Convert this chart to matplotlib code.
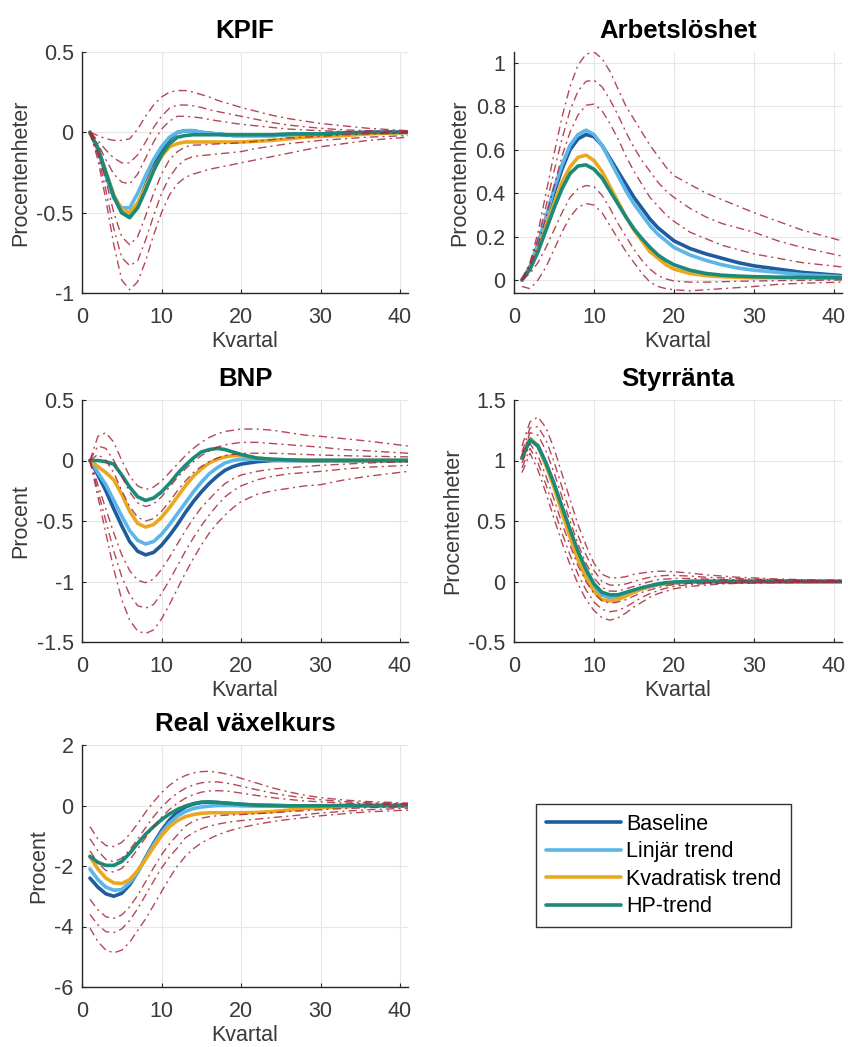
import matplotlib
matplotlib.use("Agg")
import matplotlib.pyplot as plt
from matplotlib.ticker import FuncFormatter

plt.rcParams['font.family'] = ['Liberation Sans', 'DejaVu Sans']
plt.rcParams['axes.unicode_minus'] = False

# ---------------- data ----------------
Q = [1, 2, 3, 4, 5, 6, 7, 8, 9, 10, 11, 12, 13, 14, 15, 16, 17, 18, 19, 20,
     22, 24, 26, 28, 30, 33, 36, 41]

series_names = ["Baseline", "Linjär trend", "Kvadratisk trend", "HP-trend"]
series_colors = ["#1f5c9e", "#5cb6e8", "#eaa821", "#1b8a78"]

# KPIF
kpif_base = [0, -0.1, -0.25, -0.4, -0.5, -0.53, -0.45, -0.33, -0.21, -0.11, -0.04, 0.0, 0.01, 0.01,
             0.0, -0.005, -0.01, -0.015, -0.02, -0.02, -0.02, -0.02, -0.015, -0.01, -0.01, -0.005, 0, 0]
kpif_lin = [0, -0.11, -0.27, -0.41, -0.47, -0.47, -0.38, -0.27, -0.17, -0.09, -0.03, 0.0, 0.01, 0.01,
            0.0, -0.005, -0.01, -0.015, -0.02, -0.02, -0.02, -0.02, -0.015, -0.01, -0.01, -0.005, 0, 0]
kpif_kvad = [0, -0.1, -0.25, -0.39, -0.48, -0.5, -0.44, -0.34, -0.23, -0.15, -0.09, -0.07, -0.06, -0.06,
             -0.06, -0.06, -0.06, -0.06, -0.06, -0.06, -0.055, -0.05, -0.04, -0.03, -0.025, -0.02, -0.01, 0]
kpif_hp = [0, -0.1, -0.25, -0.4, -0.5, -0.53, -0.47, -0.36, -0.24, -0.14, -0.07, -0.03, -0.02, -0.015,
           -0.015, -0.015, -0.015, -0.015, -0.015, -0.015, -0.015, -0.015, -0.01, -0.01, -0.01, -0.005, 0, 0]
kpif_bands = [
    [0, -0.02, -0.04, -0.05, -0.05, -0.04, 0.02, 0.1, 0.17, 0.22, 0.25, 0.26, 0.26, 0.25,
     0.235, 0.22, 0.2, 0.185, 0.17, 0.155, 0.13, 0.105, 0.085, 0.07, 0.055, 0.04, 0.025, 0.01],
    [0, -0.05, -0.11, -0.16, -0.19, -0.19, -0.14, -0.06, 0.03, 0.1, 0.15, 0.17, 0.17, 0.165,
     0.155, 0.14, 0.13, 0.12, 0.11, 0.1, 0.08, 0.06, 0.045, 0.035, 0.025, 0.015, 0.01, 0.005],
    [0, -0.07, -0.17, -0.26, -0.31, -0.32, -0.26, -0.16, -0.06, 0.02, 0.07, 0.1, 0.1, 0.095,
     0.09, 0.08, 0.072, 0.065, 0.057, 0.05, 0.04, 0.03, 0.02, 0.015, 0.01, 0.005, 0.0, 0.0],
    [0, -0.12, -0.3, -0.5, -0.65, -0.7, -0.65, -0.52, -0.38, -0.26, -0.17, -0.12, -0.09, -0.08,
     -0.078, -0.075, -0.072, -0.07, -0.068, -0.065, -0.055, -0.045, -0.035, -0.03, -0.025, -0.015, -0.01, -0.005],
    [0, -0.14, -0.36, -0.6, -0.78, -0.83, -0.8, -0.67, -0.52, -0.38, -0.28, -0.21, -0.17, -0.15,
     -0.145, -0.14, -0.135, -0.13, -0.125, -0.12, -0.1, -0.085, -0.07, -0.06, -0.05, -0.04, -0.03, -0.02],
    [0, -0.17, -0.42, -0.7, -0.92, -0.98, -0.93, -0.8, -0.64, -0.5, -0.39, -0.32, -0.28, -0.26,
     -0.245, -0.23, -0.22, -0.21, -0.2, -0.19, -0.17, -0.15, -0.13, -0.11, -0.09, -0.07, -0.05, -0.03],
]

# Arbetslöshet
arb_base = [0, 0.06, 0.16, 0.28, 0.4, 0.51, 0.6, 0.65, 0.67, 0.66, 0.62, 0.56, 0.5, 0.44,
            0.38, 0.33, 0.28, 0.24, 0.21, 0.18, 0.145, 0.12, 0.1, 0.08, 0.065, 0.05, 0.035, 0.02]
arb_lin = [0, 0.06, 0.17, 0.29, 0.42, 0.53, 0.62, 0.67, 0.69, 0.67, 0.62, 0.55, 0.48, 0.41,
           0.35, 0.3, 0.25, 0.21, 0.18, 0.15, 0.115, 0.09, 0.07, 0.055, 0.045, 0.035, 0.025, 0.015]
arb_kvad = [0, 0.05, 0.14, 0.25, 0.35, 0.45, 0.52, 0.565, 0.575, 0.55, 0.5, 0.43, 0.36, 0.29,
            0.23, 0.18, 0.13, 0.1, 0.07, 0.05, 0.03, 0.02, 0.015, 0.012, 0.01, 0.01, 0.01, 0.01]
arb_hp = [0, 0.05, 0.13, 0.23, 0.33, 0.42, 0.49, 0.525, 0.53, 0.51, 0.47, 0.41, 0.35, 0.29,
          0.235, 0.19, 0.15, 0.115, 0.09, 0.07, 0.045, 0.03, 0.022, 0.018, 0.015, 0.013, 0.012, 0.01]
arb_bands = [
    [0.0, 0.08, 0.22, 0.4, 0.58, 0.75, 0.89, 0.99, 1.04, 1.05, 1.02, 0.96, 0.88, 0.8,
     0.74, 0.68, 0.62, 0.57, 0.52, 0.48, 0.44, 0.4, 0.37, 0.34, 0.31, 0.27, 0.23, 0.18],
    [0, 0.07, 0.19, 0.34, 0.5, 0.65, 0.78, 0.87, 0.915, 0.92, 0.89, 0.83, 0.76, 0.68,
     0.61, 0.55, 0.5, 0.45, 0.41, 0.38, 0.33, 0.29, 0.26, 0.24, 0.22, 0.18, 0.15, 0.11],
    [0, 0.06, 0.16, 0.29, 0.43, 0.57, 0.68, 0.76, 0.805, 0.81, 0.78, 0.72, 0.65, 0.57,
     0.5, 0.44, 0.38, 0.34, 0.3, 0.27, 0.22, 0.19, 0.16, 0.14, 0.12, 0.1, 0.08, 0.06],
    [0, 0.03, 0.08, 0.15, 0.23, 0.31, 0.38, 0.42, 0.435, 0.43, 0.39, 0.33, 0.26, 0.2,
     0.14, 0.09, 0.05, 0.02, 0.005, -0.005, -0.01, -0.01, -0.008, -0.006, -0.005, -0.003, -0.002, 0.0],
    [-0.03, -0.04, 0.0, 0.06, 0.14, 0.22, 0.29, 0.335, 0.352, 0.345, 0.31, 0.25, 0.19, 0.13,
     0.08, 0.03, -0.01, -0.03, -0.04, -0.045, -0.05, -0.045, -0.04, -0.035, -0.03, -0.02, -0.015, -0.01],
]

# BNP
bnp_base = [0, -0.12, -0.25, -0.4, -0.54, -0.67, -0.75, -0.78, -0.76, -0.7, -0.62, -0.53, -0.43, -0.34,
            -0.26, -0.19, -0.13, -0.08, -0.05, -0.03, -0.01, 0.0, 0.0, 0.0, 0.0, 0.0, 0.0, 0.0]
bnp_lin = [0, -0.1, -0.2, -0.33, -0.46, -0.58, -0.66, -0.69, -0.67, -0.61, -0.53, -0.44, -0.35, -0.26,
           -0.18, -0.11, -0.06, -0.02, 0.0, 0.01, 0.01, 0.005, 0.0, 0.0, 0.0, 0.0, 0.0, 0.0]
bnp_kvad = [0, -0.05, -0.1, -0.16, -0.28, -0.42, -0.52, -0.55, -0.53, -0.47, -0.39, -0.3, -0.21, -0.13,
            -0.07, -0.02, 0.01, 0.03, 0.04, 0.04, 0.02, 0.01, 0.005, 0.0, 0.0, 0.0, 0.0, 0.0]
bnp_hp = [0, 0.0, -0.01, -0.03, -0.12, -0.22, -0.3, -0.33, -0.31, -0.26, -0.19, -0.11, -0.04, 0.02,
          0.07, 0.09, 0.1, 0.09, 0.07, 0.05, 0.02, 0.01, 0.005, 0.0, 0.0, 0.0, 0.0, 0.0]
bnp_bands = [
    [0.0, 0.2, 0.23, 0.15, 0.0, -0.13, -0.21, -0.24, -0.22, -0.17, -0.1, -0.03, 0.04, 0.1,
     0.15, 0.19, 0.22, 0.24, 0.25, 0.26, 0.26, 0.25, 0.23, 0.21, 0.2, 0.18, 0.16, 0.12],
    [0, 0.12, 0.1, 0.0, -0.13, -0.26, -0.35, -0.38, -0.36, -0.3, -0.22, -0.14, -0.07, -0.01,
     0.04, 0.08, 0.11, 0.13, 0.14, 0.15, 0.15, 0.14, 0.13, 0.12, 0.11, 0.09, 0.08, 0.06],
    [0, 0.05, 0.0, -0.1, -0.25, -0.38, -0.47, -0.5, -0.48, -0.42, -0.34, -0.25, -0.17, -0.1,
     -0.05, -0.01, 0.02, 0.04, 0.05, 0.06, 0.06, 0.06, 0.055, 0.05, 0.045, 0.04, 0.035, 0.03],
    [0, -0.2, -0.4, -0.6, -0.78, -0.91, -0.99, -1.01, -0.98, -0.9, -0.8, -0.69, -0.58, -0.48,
     -0.39, -0.32, -0.25, -0.19, -0.15, -0.12, -0.09, -0.07, -0.06, -0.05, -0.04, -0.03, -0.02, -0.01],
    [0, -0.25, -0.5, -0.75, -0.96, -1.11, -1.2, -1.22, -1.19, -1.1, -0.99, -0.87, -0.75, -0.64,
     -0.54, -0.45, -0.37, -0.3, -0.25, -0.21, -0.16, -0.13, -0.11, -0.1, -0.09, -0.07, -0.055, -0.04],
    [0, -0.3, -0.6, -0.9, -1.15, -1.32, -1.41, -1.43, -1.4, -1.31, -1.19, -1.06, -0.93, -0.81,
     -0.7, -0.6, -0.52, -0.45, -0.39, -0.34, -0.28, -0.25, -0.23, -0.21, -0.2, -0.16, -0.13, -0.09],
]

# Styrränta
styr_base = [1.02, 1.18, 1.12, 0.97, 0.8, 0.6, 0.41, 0.23, 0.08, -0.04, -0.11, -0.13, -0.12, -0.1,
             -0.08, -0.06, -0.04, -0.025, -0.015, -0.01, 0.0, 0.0, 0.0, 0.0, 0.0, 0.0, 0.0, 0.0]
styr_lin = [1.02, 1.18, 1.12, 0.97, 0.8, 0.6, 0.41, 0.23, 0.08, -0.04, -0.11, -0.13, -0.12, -0.1,
            -0.08, -0.06, -0.04, -0.025, -0.015, -0.01, 0.0, 0.0, 0.0, 0.0, 0.0, 0.0, 0.0, 0.0]
styr_kvad = [1.02, 1.18, 1.12, 0.96, 0.78, 0.57, 0.37, 0.18, 0.03, -0.08, -0.15, -0.16, -0.15, -0.12,
             -0.09, -0.06, -0.04, -0.025, -0.015, -0.01, 0.0, 0.0, 0.0, 0.0, 0.0, 0.0, 0.0, 0.0]
styr_hp = [1.02, 1.17, 1.12, 0.98, 0.81, 0.62, 0.43, 0.25, 0.1, -0.02, -0.09, -0.11, -0.11, -0.09,
           -0.07, -0.05, -0.035, -0.02, -0.01, -0.005, 0.0, 0.0, 0.0, 0.0, 0.0, 0.0, 0.0, 0.0]
styr_bands = [
    [1.12, 1.32, 1.36, 1.27, 1.1, 0.89, 0.68, 0.47, 0.3, 0.15, 0.06, 0.03, 0.03, 0.04,
     0.06, 0.07, 0.08, 0.085, 0.085, 0.08, 0.07, 0.055, 0.045, 0.035, 0.03, 0.02, 0.015, 0.01],
    [1.07, 1.27, 1.28, 1.17, 0.99, 0.78, 0.57, 0.38, 0.22, 0.09, 0.0, -0.03, -0.03, -0.02,
     0.0, 0.02, 0.035, 0.045, 0.05, 0.05, 0.045, 0.035, 0.03, 0.025, 0.02, 0.015, 0.01, 0.005],
    [1.04, 1.23, 1.21, 1.08, 0.9, 0.7, 0.5, 0.31, 0.15, 0.03, -0.05, -0.08, -0.08, -0.06,
     -0.04, -0.02, 0.0, 0.015, 0.02, 0.025, 0.025, 0.02, 0.015, 0.012, 0.01, 0.008, 0.005, 0.003],
    [0.98, 1.14, 1.04, 0.87, 0.68, 0.48, 0.3, 0.13, 0.0, -0.1, -0.16, -0.18, -0.17, -0.15,
     -0.12, -0.09, -0.07, -0.05, -0.035, -0.025, -0.015, -0.01, -0.008, -0.006, -0.005, -0.004, -0.003, -0.002],
    [0.94, 1.1, 0.98, 0.8, 0.6, 0.4, 0.22, 0.06, -0.07, -0.17, -0.23, -0.25, -0.24, -0.21,
     -0.17, -0.13, -0.1, -0.075, -0.055, -0.04, -0.025, -0.017, -0.013, -0.01, -0.008, -0.006, -0.005, -0.004],
    [0.9, 1.06, 0.92, 0.73, 0.52, 0.32, 0.14, -0.02, -0.15, -0.24, -0.3, -0.32, -0.3, -0.26,
     -0.21, -0.17, -0.13, -0.1, -0.08, -0.06, -0.04, -0.03, -0.02, -0.015, -0.012, -0.01, -0.008, -0.005],
]

# Real växelkurs
rv_base = [-2.4, -2.7, -2.92, -3.0, -2.9, -2.62, -2.2, -1.72, -1.25, -0.83, -0.48, -0.22, -0.05, 0.05,
           0.1, 0.11, 0.1, 0.08, 0.06, 0.04, 0.01, 0.0, -0.01, -0.01, -0.01, -0.01, -0.005, 0.0]
rv_lin = [-2.1, -2.45, -2.7, -2.8, -2.78, -2.55, -2.2, -1.75, -1.3, -0.9, -0.58, -0.35, -0.2, -0.1,
          -0.05, -0.02, 0.0, 0.0, 0.0, -0.01, -0.02, -0.02, -0.02, -0.015, -0.01, -0.01, -0.005, 0.0]
rv_kvad = [-1.7, -2.1, -2.4, -2.56, -2.58, -2.45, -2.15, -1.78, -1.38, -1.0, -0.7, -0.5, -0.37, -0.3,
           -0.26, -0.24, -0.24, -0.24, -0.24, -0.24, -0.23, -0.2, -0.15, -0.1, -0.07, -0.04, -0.02, -0.01]
rv_hp = [-1.68, -1.88, -1.98, -1.98, -1.85, -1.58, -1.25, -0.95, -0.7, -0.47, -0.28, -0.13, -0.02, 0.06,
         0.11, 0.12, 0.1, 0.08, 0.06, 0.04, 0.01, 0.0, -0.01, -0.01, -0.01, 0.0, 0.0, 0.0]
rv_bands = [
    [-0.7, -1.1, -1.32, -1.36, -1.22, -0.95, -0.6, -0.22, 0.12, 0.42, 0.67, 0.86, 0.99, 1.08,
     1.12, 1.13, 1.1, 1.05, 0.98, 0.9, 0.74, 0.58, 0.45, 0.34, 0.26, 0.18, 0.13, 0.08],
    [-1.1, -1.5, -1.78, -1.86, -1.74, -1.47, -1.11, -0.73, -0.37, -0.06, 0.2, 0.41, 0.57, 0.68,
     0.75, 0.78, 0.78, 0.75, 0.7, 0.64, 0.52, 0.41, 0.32, 0.25, 0.19, 0.13, 0.09, 0.05],
    [-1.5, -1.9, -2.15, -2.2, -2.08, -1.8, -1.44, -1.06, -0.7, -0.39, -0.13, 0.08, 0.24, 0.36,
     0.44, 0.48, 0.49, 0.48, 0.45, 0.41, 0.33, 0.26, 0.2, 0.15, 0.12, 0.08, 0.05, 0.03],
    [-3.1, -3.45, -3.68, -3.73, -3.62, -3.35, -2.97, -2.52, -2.06, -1.63, -1.27, -0.97, -0.68, -0.52,
     -0.42, -0.37, -0.34, -0.32, -0.31, -0.3, -0.27, -0.24, -0.2, -0.17, -0.14, -0.1, -0.07, -0.04],
    [-3.6, -3.95, -4.17, -4.2, -4.08, -3.8, -3.41, -2.96, -2.5, -2.07, -1.7, -1.4, -1.07, -0.9,
     -0.77, -0.68, -0.62, -0.57, -0.53, -0.5, -0.45, -0.4, -0.35, -0.3, -0.25, -0.19, -0.14, -0.09],
    [-4.05, -4.5, -4.78, -4.87, -4.78, -4.52, -4.13, -3.75, -3.3, -2.85, -2.4, -2.0, -1.68, -1.43,
     -1.24, -1.1, -0.98, -0.88, -0.8, -0.73, -0.62, -0.53, -0.46, -0.4, -0.34, -0.27, -0.21, -0.15],
]

panels = [
    dict(title="KPIF", ylabel="Procentenheter", series=[kpif_base, kpif_lin, kpif_kvad, kpif_hp],
         bands=kpif_bands, ylim=(-1, 0.5), yticks=[-1, -0.5, 0, 0.5]),
    dict(title="Arbetslöshet", ylabel="Procentenheter", series=[arb_base, arb_lin, arb_kvad, arb_hp],
         bands=arb_bands, ylim=(-0.06, 1.05), yticks=[0, 0.2, 0.4, 0.6, 0.8, 1]),
    dict(title="BNP", ylabel="Procent", series=[bnp_base, bnp_lin, bnp_kvad, bnp_hp],
         bands=bnp_bands, ylim=(-1.5, 0.5), yticks=[-1.5, -1, -0.5, 0, 0.5]),
    dict(title="Styrränta", ylabel="Procentenheter", series=[styr_base, styr_lin, styr_kvad, styr_hp],
         bands=styr_bands, ylim=(-0.5, 1.5), yticks=[-0.5, 0, 0.5, 1, 1.5]),
    dict(title="Real växelkurs", ylabel="Procent", series=[rv_base, rv_lin, rv_kvad, rv_hp],
         bands=rv_bands, ylim=(-6, 2), yticks=[-6, -4, -2, 0, 2]),
]

xticks = [0, 10, 20, 30, 40]

# ---------------- layout ----------------
W, H = 848, 1047
fig = plt.figure(figsize=(W / 100, H / 100), dpi=100)

positions = [  # left, top, right, bottom in pixels
    (82, 52, 408, 293),
    (514, 52, 842, 293),
    (82, 400, 408, 642),
    (514, 400, 842, 642),
    (82, 745, 408, 987),
]

FS = 15.5
band_color = "#a8283a"
fmt = FuncFormatter(lambda v, p: ("%g" % v))
handles = None
for pos, pnl in zip(positions, panels):
    l, t, r, b = pos
    ax = fig.add_axes([l / W, 1 - b / H, (r - l) / W, (b - t) / H])
    lines = []
    for vals, col, name in zip(pnl["series"], series_colors, series_names):
        ln, = ax.plot(Q, vals, color=col, lw=2.6, label=name, solid_capstyle='round', zorder=3)
        lines.append(ln)
    handles = lines
    for bvals in pnl["bands"]:
        ax.plot(Q, bvals, color=band_color, lw=1.0, linestyle=(0, (6, 3, 1.5, 3)),
                alpha=0.85, zorder=4)
    ax.set_xlim(0, 41)
    ax.set_ylim(*pnl["ylim"])
    ax.set_xticks(xticks)
    ax.set_yticks(pnl["yticks"])
    ax.yaxis.set_major_formatter(fmt)
    ax.grid(True, color="#e6e6e6", lw=0.8)
    ax.set_axisbelow(True)
    for s in ["top", "right"]:
        ax.spines[s].set_visible(False)
    for s in ["left", "bottom"]:
        ax.spines[s].set_color("#262626")
        ax.spines[s].set_linewidth(1.0)
    ax.tick_params(direction="in", length=3, labelsize=FS, colors="#262626",
                   labelcolor="#3a3a3a")
    ax.tick_params(axis="x", pad=10)
    ax.tick_params(axis="y", pad=6)
    ax.set_title(pnl["title"], fontsize=18.5, fontweight="bold", pad=10)
    ax.set_xlabel("Kvartal", fontsize=FS, color="#3a3a3a", labelpad=2)
    ax.set_ylabel(pnl["ylabel"], fontsize=FS, color="#3a3a3a", labelpad=4)

leg = fig.legend(handles, series_names, loc="upper left",
                 bbox_to_anchor=(536 / W, 1 - 804 / H), fontsize=FS, frameon=True,
                 fancybox=False, edgecolor="#333333", framealpha=1,
                 handlelength=3.5, handletextpad=0.25, labelspacing=0.3,
                 borderpad=0.45, borderaxespad=0)
leg.get_frame().set_linewidth(1.0)

fig.savefig("out.png", dpi=100)
